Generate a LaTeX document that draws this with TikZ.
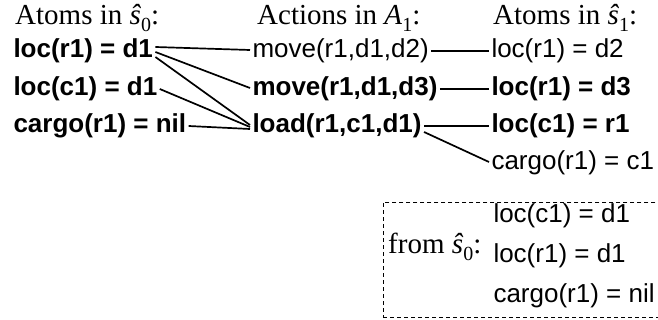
\documentclass[tikz,border=0pt]{standalone}
\usepackage{fontspec}
\setmainfont{Liberation Serif}
\setsansfont{Liberation Sans}
\newcommand{\lowsub}[1]{\raisebox{-7pt}{\fontsize{20}{20}\selectfont #1}}
\begin{document}
\begin{tikzpicture}[x=1pt,y=-1pt,
  atom/.style={font=\sffamily\fontsize{26}{30}\selectfont, inner sep=0pt, outer sep=2.5pt, anchor=west, text height=19pt, text depth=5pt},
  batom/.style={atom, font=\sffamily\bfseries\fontsize{26}{30}\selectfont},
  head/.style={font=\rmfamily\fontsize{29}{32}\selectfont, inner sep=0pt, anchor=base west},
  link/.style={line width=1.7pt},
  dashbox/.style={draw, line width=0.7pt, dash pattern=on 4pt off 3pt}]
\useasboundingbox (0,0) rectangle (658,320);
% headers
\node[head] (h0) at (15,25) {Atoms in \textit{ŝ}\lowsub{0}:};
\node[head] (h1) at (257,25) {Actions in \textit{A}\lowsub{1}:};
\node[head] (h2) at (493,25) {Atoms in \textit{ŝ}\lowsub{1}:};
% column 1
\node[batom] (a1) at (11,51) {loc(r1) = d1};
\node[batom] (a2) at (11,89) {loc(c1) = d1};
\node[batom] (a3) at (11,126) {cargo(r1) = nil};
% column 2
\node[atom]  (b1) at (250,51) {move(r1,d1,d2)};
\node[batom] (b2) at (250,89) {move(r1,d1,d3)};
\node[batom] (b3) at (250,126) {load(r1,c1,d1)};
% column 3
\node[atom]  (c1) at (489,51) {loc(r1) = d2};
\node[batom] (c2) at (489,89) {loc(r1) = d3};
\node[batom] (c3) at (489,126) {loc(c1) = r1};
\node[atom]  (c4) at (489,163) {cargo(r1) = c1};
% from s0 box
\node[dashbox, minimum width=285pt, minimum height=115pt, anchor=north west, inner sep=0pt] (box) at (383,202) {};
\node[head] (fr) at (388,254) {from \textit{ŝ}\lowsub{0}:};
\node[atom] (d1) at (491,216) {loc(c1) = d1};
\node[atom] (d2) at (491,255) {loc(r1) = d1};
\node[atom] (d3) at (491,295) {cargo(r1) = nil};
% connectors
\draw[link] ([yshift=4pt]a1.east) -- ([yshift=1pt]b1.west);
\draw[link] ([yshift=-1pt]a1.east) -- ([yshift=1pt]b2.west);
\draw[link] ([yshift=-6pt]a1.east) -- ([yshift=1pt]b3.west);
\draw[link] (a2.east) -- ([yshift=-1pt]b3.west);
\draw[link] (a3.east) -- ([yshift=-3pt]b3.west);
\draw[link] (b1.east) -- (c1.west);
\draw[link] (b2.east) -- (c2.west);
\draw[link] (b3.east) -- (c3.west);
\draw[link] ([yshift=-6pt]b3.east) -- ([yshift=1pt]c4.west);
\end{tikzpicture}
\end{document}
